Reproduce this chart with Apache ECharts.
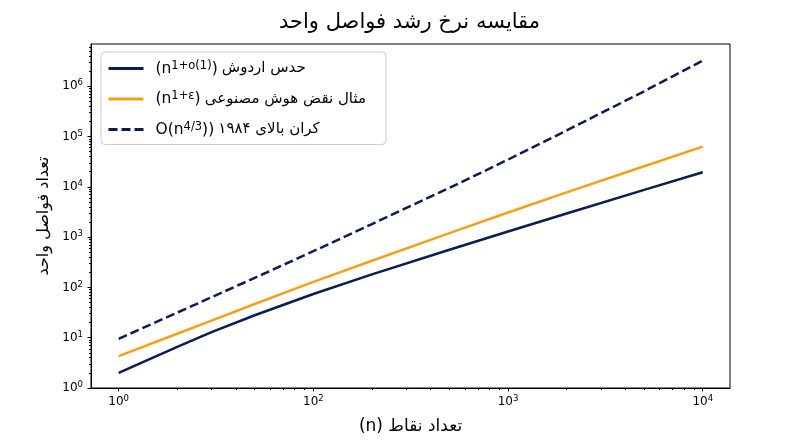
<!DOCTYPE html>
<html>
<head>
<meta charset="utf-8">
<title>مقایسه نرخ رشد فواصل واحد</title>
<script src="https://cdn.jsdelivr.net/npm/echarts@6/dist/echarts.min.js"></script>
<style>
  html, body { margin: 0; padding: 0; background: #fff; }
  #chart { width: 800px; height: 447px; }
</style>
</head>
<body>
<div id="chart"></div>
<script>
// values (log-log)
var nValues = [10, 20, 30, 50, 100, 200, 500, 1000, 2000, 5000, 10000];
var erdosValues = [2.0, 6.6, 12.9, 28, 74, 182, 562, 1290, 2950, 8710, 19500];
var aiValues = [4.3, 12.0, 21.9, 46.8, 129, 339, 1200, 3090, 7760, 25700, 63100];
var boundValues = [9.5, 31.6, 63.8, 155, 525, 1820, 9550, 34700, 132000, 794000, 3240000];

var seriesNames = ['حدس اردوش', 'مثال نقض هوش مصنوعی', 'کران بالای ۱۹۸۴'];
// math part of each legend entry: before / superscript / after
var seriesMath = [['(n', '1+o(1)', ')'], ['(n', '1+ε', ')'], ['O(n', '4/3', '))']];

// tick labels as printed on the picture (exponents)
var xTickValues = [10, 100, 1000, 10000];
var xTickLabels = ['0', '2', '3', '4'];
var yTickValues = [1, 10, 100, 1000, 10000, 100000, 1000000];
var yTickLabels = ['0', '1', '2', '3', '4', '5', '6'];

var navy = '#0b1d51';
var orange = '#f5a01a';
var font = 'DejaVu Sans';

var xMin = Math.pow(10, 0.858), xMax = Math.pow(10, 4.14);
var yMin = 1, yMax = Math.pow(10, 6.84);

var minorTicks = function (lo, hi) {
  var out = [];
  for (var d = 1; d <= hi; d *= 10) {
    for (var k = 2; k <= 9; k++) {
      if (k * d > lo && k * d < hi) out.push(k * d);
    }
  }
  return out;
};

var pairs = function (vals) {
  return nValues.map(function (n, i) { return [n, vals[i]]; });
};

var expLabel = function (ticks, labels) {
  return function (v) {
    for (var i = 0; i < ticks.length; i++) {
      if (Math.abs(Math.log10(v) - Math.log10(ticks[i])) < 0.01) {
        return '{b|10}{e|' + labels[i] + '}';
      }
    }
    return '';
  };
};

var tickRich = {
  b: { fontSize: 12, lineHeight: 15, fontFamily: font, color: '#000' },
  e: { fontSize: 8.5, lineHeight: 8.5, verticalAlign: 'top', fontFamily: font, color: '#000' }
};

var drawChart = function () {
  var chart = echarts.init(document.getElementById('chart'));
  var option = {
    animation: false,
    backgroundColor: '#fff',
    title: {
      text: 'مقایسه نرخ رشد فواصل واحد',
      left: 279,
      top: 12,
      padding: 0,
      textStyle: { fontSize: 21, fontWeight: 'normal', color: '#000', fontFamily: font }
    },
    legend: {
      left: 101,
      top: 52,
      orient: 'vertical',
      itemWidth: 35,
      itemHeight: 14,
      itemGap: 14,
      padding: [8, 20, 7, 6],
      backgroundColor: 'rgba(255,255,255,0.8)',
      borderColor: '#cccccc',
      borderWidth: 1,
      borderRadius: 4,
      data: seriesNames,
      itemStyle: { opacity: 0 },
      lineStyle: { width: 3 },
      formatter: function (name) {
        var i = seriesNames.indexOf(name);
        var m = seriesMath[i];
        return '{m|' + m[0] + '}{s|' + m[1] + '}{m|' + m[2] + '} {p|' + name + '}';
      },
      textStyle: {
        fontSize: 15,
        color: '#000',
        padding: [0, 0, 0, 7],
        rich: {
          m: { fontSize: 15.5, lineHeight: 17, fontFamily: font, color: '#000' },
          s: { fontSize: 11.5, lineHeight: 10, verticalAlign: 'top', fontFamily: font, color: '#000' },
          p: { fontSize: 15, lineHeight: 17, fontFamily: font, color: '#000' }
        }
      }
    },
    grid: {
      left: 91, right: 70, top: 44, bottom: 59,
      show: true, borderColor: '#000', borderWidth: 1,
      outerBoundsMode: 'none'
    },
    xAxis: [{
      type: 'log', logBase: 10, min: xMin, max: xMax,
      position: 'bottom',
      name: '\u2067تعداد نقاط (n)\u2069',
      nameLocation: 'middle',
      nameGap: 30,
      nameTextStyle: { fontSize: 17, color: '#000', fontFamily: font },
      axisLine: { show: true, onZero: false, lineStyle: { color: '#000', width: 1 } },
      axisTick: { show: true, customValues: xTickValues, length: 3.5, lineStyle: { color: '#000' } },
      axisLabel: { customValues: xTickValues, formatter: expLabel(xTickValues, xTickLabels), rich: tickRich, margin: 6 },
      splitLine: { show: false }
    }, {
      type: 'log', logBase: 10, min: xMin, max: xMax,
      position: 'bottom',
      axisLine: { show: false },
      axisTick: { show: true, customValues: minorTicks(xTickValues[0], xMax), length: 2, lineStyle: { color: '#000' } },
      axisLabel: { show: false },
      splitLine: { show: false }
    }],
    yAxis: [{
      type: 'log', logBase: 10, min: yMin, max: yMax,
      position: 'left',
      name: 'تعداد فواصل واحد',
      nameLocation: 'middle',
      nameGap: 38,
      nameTextStyle: { fontSize: 16, color: '#000', fontFamily: font },
      axisLine: { show: true, onZero: false, lineStyle: { color: '#000', width: 1 } },
      axisTick: { show: true, customValues: yTickValues, length: 3.5, lineStyle: { color: '#000' } },
      axisLabel: { customValues: yTickValues, formatter: expLabel(yTickValues, yTickLabels), rich: tickRich, margin: 8 },
      splitLine: { show: false }
    }, {
      type: 'log', logBase: 10, min: yMin, max: yMax,
      position: 'left',
      axisLine: { show: false },
      axisTick: { show: true, customValues: minorTicks(yMin, yMax), length: 2, lineStyle: { color: '#000' } },
      axisLabel: { show: false },
      splitLine: { show: false }
    }],
    series: [{
      name: seriesNames[0],
      type: 'line',
      symbol: 'none',
      data: pairs(erdosValues),
      itemStyle: { color: navy },
      lineStyle: { color: navy, width: 2.5 }
    }, {
      name: seriesNames[1],
      type: 'line',
      symbol: 'none',
      data: pairs(aiValues),
      itemStyle: { color: orange },
      lineStyle: { color: orange, width: 2.5 }
    }, {
      name: seriesNames[2],
      type: 'line',
      symbol: 'none',
      data: pairs(boundValues),
      itemStyle: { color: navy },
      lineStyle: { color: navy, width: 2.5, type: [9, 4] }
    }]
  };
  chart.setOption(option);
};

drawChart();
</script>
</body>
</html>
